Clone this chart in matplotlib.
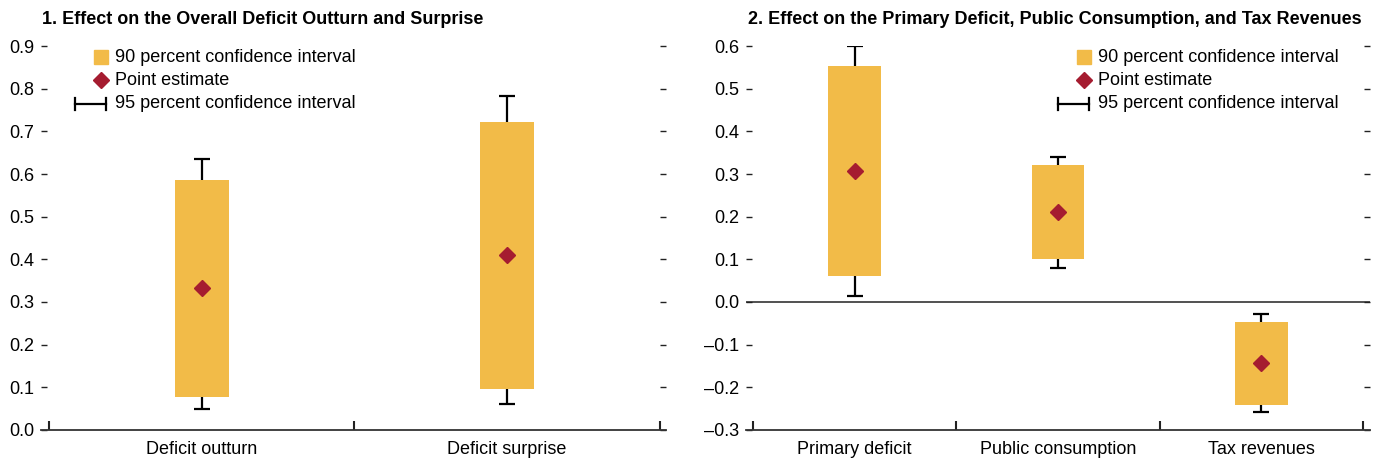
import numpy as np
import matplotlib
matplotlib.use("Agg")
import matplotlib.pyplot as plt
from matplotlib.ticker import FuncFormatter, FixedLocator

plt.rcParams['font.family'] = ['Liberation Sans Narrow', 'Liberation Sans', 'DejaVu Sans']

# panel 1
cats1 = ["Deficit outturn", "Deficit surprise"]
pt1 = [0.333, 0.410]
lo90_1 = [0.077, 0.096]
hi90_1 = [0.585, 0.722]
lo95_1 = [0.049, 0.061]
hi95_1 = [0.635, 0.783]

# panel 2
cats2 = ["Primary deficit", "Public consumption", "Tax revenues"]
pt2 = [0.307, 0.211, -0.144]
lo90_2 = [0.061, 0.101, -0.241]
hi90_2 = [0.553, 0.321, -0.047]
lo95_2 = [0.014, 0.080, -0.259]
hi95_2 = [0.600, 0.340, -0.028]

gold = "#F2BB48"
red = "#A51C30"
dark = "#222222"


def fmt(v, pos):
    s = "%.1f" % abs(v)
    return ("\u2013" + s) if v < -1e-9 else s


def panel(ax, cats, pt, lo90, hi90, lo95, hi95, width, xlim, ylim):
    x = np.arange(len(cats))
    pt = np.array(pt)
    err = [pt - np.array(lo95), np.array(hi95) - pt]
    ax.errorbar(x, pt, yerr=err, fmt="none", ecolor="black", elinewidth=1.6,
                capsize=5.8, capthick=1.6, zorder=1)
    ax.bar(x, np.array(hi90) - np.array(lo90), bottom=lo90, width=width,
           color=gold, zorder=2)
    ax.plot(x, pt, "D", color=red, markersize=8.3, zorder=3)
    ax.set_xlim(*xlim)
    ax.set_ylim(*ylim)
    for s in ["top", "left", "right"]:
        ax.spines[s].set_visible(False)
    ax.spines["bottom"].set_color("#333333")
    ax.spines["bottom"].set_linewidth(1.3)
    ax.set_xticks(x)
    ax.set_xticklabels(cats, fontsize=13)
    ax.xaxis.set_minor_locator(FixedLocator(np.arange(len(cats) + 1) - 0.5))
    ax.tick_params(axis="x", which="major", length=0, pad=8)
    ax.tick_params(axis="x", which="minor", direction="in", length=6.5,
                   width=1.5, color=dark)
    ax.set_yticks(np.round(np.arange(ylim[0], ylim[1] + 0.001, 0.1), 1))
    ax.yaxis.set_major_formatter(FuncFormatter(fmt))
    ax.tick_params(axis="y", direction="in", left=True, right=True,
                   length=4.5, width=1.0, labelsize=13, pad=5, color=dark)


def legend(ax, xt):
    # xt: text start in axes fraction; rows in axes fraction
    tr = ax.transAxes
    w = 625.0
    rows = [0.971, 0.911, 0.849]
    mx = xt - 14.5 / w
    ax.plot([mx], [rows[0]], "s", color=gold, markersize=10, transform=tr, clip_on=False)
    ax.plot([mx], [rows[1]], "D", color=red, markersize=8, transform=tr, clip_on=False)
    x0, x1 = xt - 40 / w, xt - 9 / w
    ax.plot([x0, x1], [rows[2], rows[2]], color="black", lw=1.6, transform=tr, clip_on=False)
    for xx in (x0, x1):
        ax.plot([xx, xx], [rows[2] - 0.016, rows[2] + 0.016], color="black", lw=1.6,
                transform=tr, clip_on=False)
    labels = ["90 percent confidence interval", "Point estimate",
              "95 percent confidence interval"]
    for r, t in zip(rows, labels):
        ax.text(xt, r, t, transform=tr, fontsize=13, va="center", ha="left")


fig = plt.figure(figsize=(13.76, 4.62), dpi=100)
ax1 = fig.add_axes([41 / 1376, 0.0693, 625 / 1376, 0.8311])
ax2 = fig.add_axes([746 / 1376, 0.0693, 624 / 1376, 0.8311])

panel(ax1, cats1, pt1, lo90_1, hi90_1, lo95_1, hi95_1, 0.177, (-0.526, 1.52), (0.0, 0.9))
panel(ax2, cats2, pt2, lo90_2, hi90_2, lo95_2, hi95_2, 0.26, (-0.534, 2.534), (-0.3, 0.6))
ax2.axhline(0, color="#333333", lw=1.2, zorder=0)

legend(ax1, (115 - 41) / 625)
legend(ax2, (1098 - 746) / 624)

fig.text(42 / 1376, 1 - 19 / 462, "1. Effect on the Overall Deficit Outturn and Surprise",
         fontsize=13, fontweight="bold", va="center", ha="left")
fig.text(748 / 1376, 1 - 19 / 462,
         "2. Effect on the Primary Deficit, Public Consumption, and Tax Revenues",
         fontsize=13, fontweight="bold", va="center", ha="left")

fig.savefig("out.png", dpi=100)
